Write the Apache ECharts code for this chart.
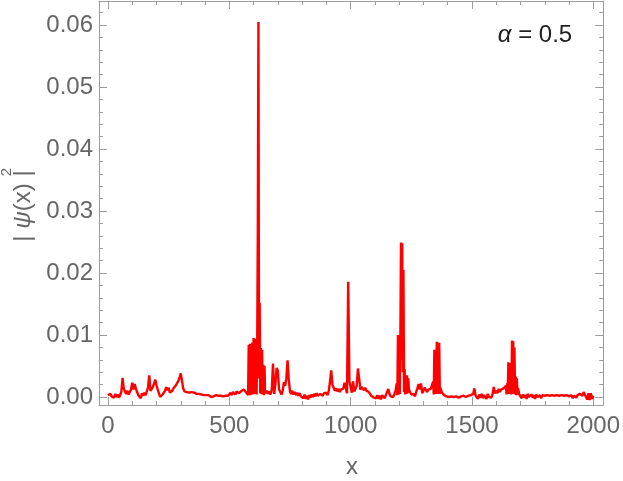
<!DOCTYPE html>
<html><head><meta charset="utf-8">
<script src="https://cdn.jsdelivr.net/npm/echarts@6/dist/echarts.min.js"></script>
<style>html,body{margin:0;padding:0;background:#fff}#c{width:623px;height:481px}</style>
</head><body><div id="c"></div>
<script>
// ---- tick labels / ticks ----
const xMajorTicks = [0, 500, 1000, 1500, 2000];
const xMinorTicks = [100, 200, 300, 400, 600, 700, 800, 900, 1100, 1200, 1300, 1400, 1600, 1700, 1800, 1900];
const yMajorTicks = [0, 0.01, 0.02, 0.03, 0.04, 0.05, 0.06];
const yMinorTicks = [0.002, 0.004, 0.006, 0.008, 0.012, 0.014, 0.016, 0.018, 0.022, 0.024, 0.026, 0.028,
  0.032, 0.034, 0.036, 0.038, 0.042, 0.044, 0.046, 0.048, 0.052, 0.054, 0.056, 0.058, 0.062];

// ---- series: |psi(x)|^2, values in units of 1e-4 ----
// each run: first x, x spacing, values
const run0000 = [3,0,5,1,4,-1,5,0,4,-1,3,8,31,14,9,5,10,4,8,12,
  23,12,21,14,8,3,5,-2,6,2,7,3,6,15,35,10,9,16,17,28,
  19,12,6,0,-3,4,2,10,16,11,15,7,9,10,14,12,19,22,26,31,
  38,26,14,9,11,8,11,7,10,8,11,7,8,5,4,5,2,4,1,3,
  2,3,1,3,2,0,3,1,2,3,1,2,0,2,3,1,3,2,4,2,
  4,7,3,8,5,4,9,11,6,7,10,8,12,9,7];                       // x = 0 .. 570, step 5
const run0575 = [10,3,84,4,86,3,85,5,88,4,95,6,94,5,86,4,85,270,605,30,152,6,79,5,76,4,52,3,50,6,9]; // x = 575 .. 650, step 2.5
const run0655 = [10,5,9,4,12,54,5,22,47,
  42,12,8,4,10,24,18,30,59,28,9,5,10,4,8,3,7,2,6,1,
  3,-2,4,-3,2,-4,3,-1,4,0,5,1,6,2,3,5,7,2,6,4,
  7,3,10,25,43,20,15,10,14,9,13,8,12,10,14,23,22,6,186,25,
  24,7,25,9,12,18,46,30,12,16,15,11,15,10,13,8,6,2,3,-1,
  2,-2,3,-3,2,-4,3,0,-2,3,2,13,5,1,3,0,4,10];               // x = 655 .. 1185, step 5
const run1190 = [22,3,100,4,99,5,98,249,60,248,40,205,8,45,4,32,5,35,6,30,12]; // x = 1190 .. 1240, step 2.5
const run1245 = [10,4,3,5,1,8,14,21,12,22,6,5,15,18,8,12,9,13,16]; // x = 1245 .. 1335, step 5
const run1340 = [25,4,76,5,76,6,89,5,88,6,87,5,15];          // x = 1340 .. 1370, step 2.5
const run1375 = [8,5,3,2,1,
  2,0,2,1,3,0,2,1,1,-1,2,1,0,2,3,0,1,2,0,3,
  2,5,14,2,1,-3,4,-1,5,-2,3,4,-3,5,0,3,-1,5,16,6,
  10,6,13,8,12,9,14,11];                                     // x = 1375 .. 1635, step 5
const run1640 = [18,4,22,5,56,6,55,5,27,4,91,6,90,5,80,4,33,3,30,4,14]; // x = 1640 .. 1690, step 2.5
const run1695 = [4,
  3,-2,4,-1,3,-3,5,0,-2,4,-1,3,-3,4,0,-1,3,-2,3,0,
  2,-1,3,0,2,-1,3,0,2,-1,3,0,2,-1,3,0,2,-1,3,0,
  1,-2,3,-2,2,4,-1,3,0,5,8,2,8,4,2,-4,6,-5,6,-3,
  2];                                                        // x = 1695 .. 2000, step 5
const valueUnit = 1e-4;
const runs = [
  [0, 5, run0000], [575, 2.5, run0575], [655, 5, run0655], [1190, 2.5, run1190],
  [1245, 5, run1245], [1340, 2.5, run1340], [1375, 5, run1375], [1640, 2.5, run1640], [1695, 5, run1695]
];
const seriesData = [];
runs.forEach(([x0, dx, vals]) => vals.forEach((v, i) => seriesData.push([x0 + i * dx, v * valueUnit])));

const FONT = '"Liberation Sans", Arial, sans-serif';
const AX = '#9c9c9c';
const LBL = '#666666';
const xMin = -37, xMax = 2041, yMin = -0.00129, yMax = 0.06387;

function xAx(pos, vals, len, labels, showLine) {
  return {
    type: 'value', position: pos, min: xMin, max: xMax,
    splitLine: {show: false},
    axisLine: {show: showLine, onZero: false, lineStyle: {color: AX, width: 1}},
    axisTick: {show: true, inside: true, length: len, customValues: vals, lineStyle: {color: AX, width: 1}},
    axisLabel: labels ? {show: true, customValues: vals, color: LBL, fontSize: 24, fontFamily: FONT, margin: 9,
      formatter: v => String(v)} : {show: false}
  };
}
function yAx(pos, vals, len, labels, showLine) {
  return {
    type: 'value', position: pos, min: yMin, max: yMax,
    splitLine: {show: false},
    axisLine: {show: showLine, onZero: false, lineStyle: {color: AX, width: 1}},
    axisTick: {show: true, inside: true, length: len, customValues: vals, lineStyle: {color: AX, width: 1}},
    axisLabel: labels ? {show: true, customValues: vals, color: LBL, fontSize: 24, fontFamily: FONT, margin: 6,
      formatter: v => v.toFixed(2)} : {show: false}
  };
}

const chart = echarts.init(document.getElementById('c'), null, {renderer: 'canvas'});
chart.setOption({
  animation: false,
  backgroundColor: '#ffffff',
  grid: {left: 99, right: 18, top: 1, bottom: 76, containLabel: false},
  xAxis: [
    xAx('bottom', xMajorTicks, 8, true, true),
    xAx('bottom', xMinorTicks, 4, false, false),
    xAx('top', xMajorTicks, 8, false, true),
    xAx('top', xMinorTicks, 4, false, false)
  ],
  yAxis: [
    yAx('left', yMajorTicks, 8, true, true),
    yAx('left', yMinorTicks, 4, false, false),
    yAx('right', yMajorTicks, 8, false, true),
    yAx('right', yMinorTicks, 4, false, false)
  ],
  series: [{
    type: 'line', xAxisIndex: 0, yAxisIndex: 0,
    data: seriesData, showSymbol: false, symbol: 'none',
    lineStyle: {color: '#ff0000', width: 2.4}, itemStyle: {color: '#ff0000'},
    clip: false, z: 1
  }],
  graphic: [
    {type: 'text', x: 352, y: 467, style: {text: 'x', font: '24px ' + FONT, fill: LBL, align: 'center', verticalAlign: 'middle'}},
    {type: 'group', x: 23, y: 206, rotation: Math.PI / 2, children: [
      {type: 'text', x: 0, y: 0,
        style: {text: '| {i|ψ}(x) |', font: '24px ' + FONT, fill: LBL, align: 'center', verticalAlign: 'middle',
          rich: {i: {fontStyle: 'italic', fontSize: 24, fontFamily: FONT, color: LBL}}}},
      {type: 'text', x: 34, y: -16,
        style: {text: '2', font: '15px ' + FONT, fill: LBL, align: 'center', verticalAlign: 'middle'}}
    ]},
    {type: 'text', x: 535, y: 35,
      style: {text: '{i|α} = 0.5', font: '24px ' + FONT, fill: '#222222', align: 'center', verticalAlign: 'middle',
        rich: {i: {fontStyle: 'italic', fontSize: 24, fontFamily: FONT, color: '#222222'}}}}
  ]
});
</script></body></html>
